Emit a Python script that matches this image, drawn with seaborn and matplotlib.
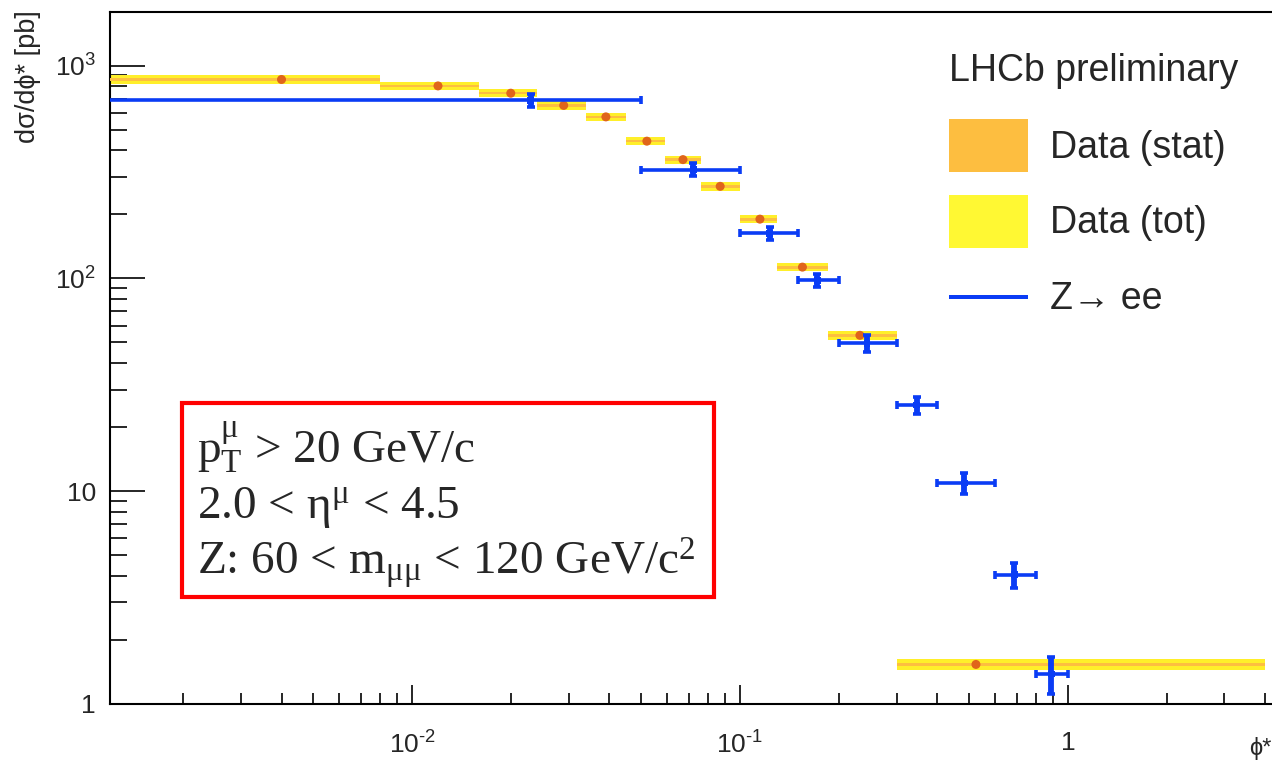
import numpy as np
import pandas as pd
import matplotlib
matplotlib.use("Agg")
import matplotlib.pyplot as plt
import seaborn as sns
from matplotlib.patches import Rectangle, Patch
from matplotlib.legend_handler import HandlerPatch
from matplotlib.ticker import FixedLocator, FixedFormatter, LogLocator, NullFormatter

# ---------------- data ----------------
mu_bin_lo = [0.0, 0.008, 0.016, 0.024, 0.034, 0.045, 0.059, 0.076, 0.10, 0.13, 0.185, 0.30]
mu_bin_hi = [0.008, 0.016, 0.024, 0.034, 0.045, 0.059, 0.076, 0.10, 0.13, 0.185, 0.30, 4.0]
mu_x = [0.004, 0.012, 0.020, 0.029, 0.039, 0.052, 0.067, 0.087, 0.115, 0.155, 0.232, 0.524]
mu_y = [862, 804, 743, 651, 575, 442, 362, 271, 190, 113, 54, 1.53]
mu_tot = [39, 36, 33, 29, 26, 20, 16, 12, 8.5, 5.1, 2.6, 0.085]
mu_stat = [12, 11, 10, 9, 8, 6, 5, 4, 2.8, 1.7, 0.8, 0.025]

ee_bin_lo = [0.0, 0.05, 0.10, 0.15, 0.20, 0.30, 0.40, 0.60, 0.80]
ee_bin_hi = [0.05, 0.10, 0.15, 0.20, 0.30, 0.40, 0.60, 0.80, 1.00]
ee_x = [0.023, 0.072, 0.123, 0.172, 0.244, 0.346, 0.483, 0.686, 0.889]
ee_y = [689, 325, 163, 98, 49.5, 25.4, 10.9, 4.04, 1.38]
ee_err = [46, 23, 11, 6.5, 4.5, 2.3, 1.2, 0.55, 0.27]

x_tick_vals = [0.01, 0.1, 1]
x_tick_labels = ["$\\mathdefault{10^{\u20102}}$", "$\\mathdefault{10^{\u20101}}$", "1"]
y_tick_vals = [1, 10, 100, 1000]
y_tick_labels = ["1", "10", r"$\mathdefault{10^{2}}$", r"$\mathdefault{10^{3}}$"]

y_label = "d\u03c3/d\u03d5* [pb]"
x_label = "\u03d5*"
legend_title = "LHCb preliminary"
legend_labels = ["Data (stat)", "Data (tot)", "Z\u2192 ee"]
box_lines = [
    r"p$_{\mathrm{T}}^{\mathrm{\mu}}$ > 20 GeV/c",
    r"2.0 < η$^{\mathrm{\mu}}$ < 4.5",
    r"Z: 60 < m$_{\mathrm{\mu\mu}}$ < 120 GeV/c$^{\mathrm{2}}$",
]

# ---------------- style ----------------
sns.set_style("white")
plt.rcParams["font.family"] = ["Liberation Sans", "DejaVu Sans"]
plt.rcParams["mathtext.fontset"] = "custom"
plt.rcParams["mathtext.rm"] = "Liberation Serif"
plt.rcParams["mathtext.it"] = "Liberation Serif:italic"
plt.rcParams["mathtext.bf"] = "Liberation Serif:bold"

C_TOT = "#FFEF2A"
C_TOT_LEG = "#FFF833"
C_STAT = "#FDBE40"
C_DOT = "#E0651A"
C_BLUE = "#0A3CF5"

W, H = 1272, 762
fig = plt.figure(figsize=(W / 100, H / 100), dpi=100)
fig.patch.set_facecolor("white")
ax_left, ax_right, ax_top, ax_bot = 110, 1300, 12, 703.7
ax = fig.add_axes([ax_left / W, 1 - ax_bot / H, (ax_right - ax_left) / W, (ax_bot - ax_top) / H])
ax.set_facecolor("white")
ax.set_xscale("log")
ax.set_yscale("log")

lo = np.maximum(np.array(mu_bin_lo), 1e-4)
hi = np.array(mu_bin_hi)
y = np.array(mu_y)
tot = np.array(mu_tot)
stat = np.array(mu_stat)
ax.bar(lo, 2 * tot, width=hi - lo, bottom=y - tot, align="edge", color=C_TOT, linewidth=0, zorder=2)
ax.bar(lo, 2 * stat, width=hi - lo, bottom=y - stat, align="edge", color=C_STAT, linewidth=0, zorder=3)

df_mu = pd.DataFrame({"phi": mu_x, "xs": mu_y})
sns.scatterplot(data=df_mu, x="phi", y="xs", ax=ax, color=C_DOT, s=42, edgecolor="none",
                zorder=6, legend=False)

ex = np.array(ee_x)
elo = np.maximum(np.array(ee_bin_lo), 1e-4)
ehi = np.array(ee_bin_hi)
ax.errorbar(ex, ee_y, xerr=[ex - elo, ehi - ex], fmt="none", ecolor=C_BLUE,
            elinewidth=2.6, capsize=3, capthick=2.6, zorder=7)
ax.errorbar(ex, ee_y, yerr=ee_err, fmt="none", ecolor=C_BLUE,
            elinewidth=4.2, capsize=3, capthick=2.6, zorder=7)
df_ee = pd.DataFrame({"phi": ee_x, "xs": ee_y})
sns.scatterplot(data=df_ee, x="phi", y="xs", ax=ax, color=C_BLUE, marker="s", s=24,
                edgecolor="none", zorder=8, legend=False)

ax.set_xlim(0.0012, 10 ** ((ax_right - 1068) / 328))
ax.set_ylim(1, 1790)

ax.xaxis.set_major_locator(FixedLocator(x_tick_vals))
ax.xaxis.set_major_formatter(FixedFormatter(x_tick_labels))
ax.yaxis.set_major_locator(FixedLocator(y_tick_vals))
ax.yaxis.set_major_formatter(FixedFormatter(y_tick_labels))
ax.xaxis.set_minor_locator(LogLocator(base=10, subs=np.arange(2, 10), numticks=30))
ax.yaxis.set_minor_locator(LogLocator(base=10, subs=np.arange(2, 10), numticks=30))
ax.xaxis.set_minor_formatter(NullFormatter())
ax.yaxis.set_minor_formatter(NullFormatter())

ax.tick_params(axis="x", which="major", direction="in", length=14, width=1.4, pad=20,
               labelsize=19, bottom=True, top=False)
ax.tick_params(axis="x", which="minor", direction="in", length=8, width=1.4, bottom=True, top=False)
ax.tick_params(axis="y", which="major", direction="in", length=25, width=1.4, pad=10,
               labelsize=19, left=True, right=False)
ax.tick_params(axis="y", which="minor", direction="in", length=12, width=1.4, left=True, right=False)
for s in ["left", "bottom", "top"]:
    ax.spines[s].set_visible(True)
    ax.spines[s].set_linewidth(1.5)
    ax.spines[s].set_color("black")
ax.spines["right"].set_visible(False)
ax.set_xlabel("")
ax.set_ylabel("")

# axis titles
fig.text(28 / W, 1 - 10 / H, y_label, rotation=90, ha="center", va="top", fontsize=19.5)
fig.text(1271 / W, 1 - 748 / H, x_label, ha="right", va="center", fontsize=17)


# legend: the Z->ee entry is a thin horizontal bar centred in its row
def thin_bar(legend, orig_handle, xdescent, ydescent, width, height, fontsize):
    return Rectangle((-xdescent, -ydescent + height / 2 - 1.2), width, 2.4)


h_stat = Patch(facecolor=C_STAT, edgecolor="none")
h_tot = Patch(facecolor=C_TOT_LEG, edgecolor="none")
h_ee = Patch(facecolor=C_BLUE, edgecolor="none")
leg = ax.legend([h_stat, h_tot, h_ee], legend_labels, title=legend_title, loc="upper left",
                bbox_to_anchor=(949 / W, 1 - 53 / H), bbox_transform=fig.transFigure,
                frameon=False, fontsize=27, title_fontsize=27, handlelength=2.1,
                handleheight=1.78, handletextpad=0.58, labelspacing=0.62, borderpad=0,
                borderaxespad=0, alignment="left",
                handler_map={h_ee: HandlerPatch(patch_func=thin_bar)})
# a little more room between the legend title and its first entry
leg._legend_box.sep = 0.62 * 27 + 5

# red box with cuts
fig.add_artist(Rectangle((182 / W, 1 - 597 / H), (714 - 182) / W, (597 - 403) / H,
                         transform=fig.transFigure, fill=False, edgecolor="#FF0000",
                         linewidth=3, zorder=10))
baselines = [462, 518, 574]
for line, b in zip(box_lines, baselines):
    fig.text(197 / W, 1 - b / H, line, ha="left", va="baseline", fontsize=34,
             family=["Liberation Serif", "DejaVu Serif"])

fig.savefig("out.png", dpi=100, facecolor="white")
